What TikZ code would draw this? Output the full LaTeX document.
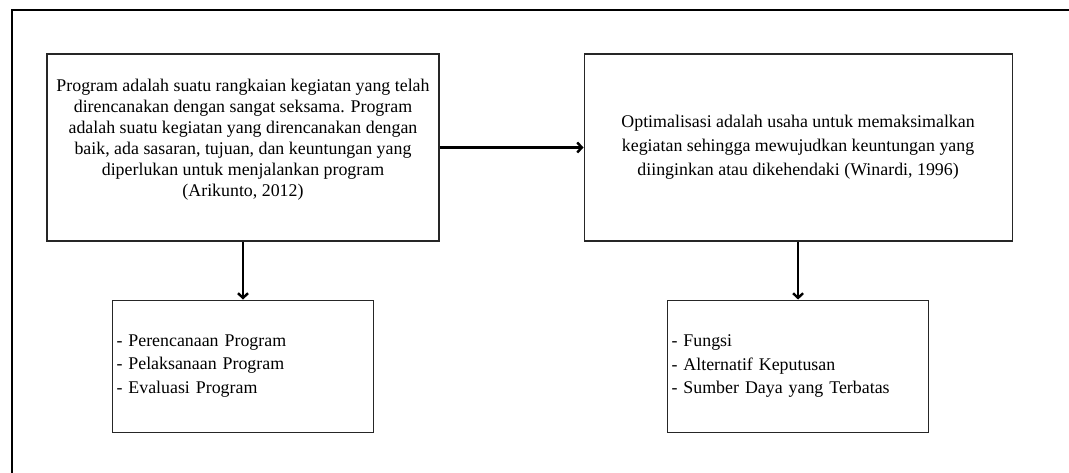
\documentclass[tikz,border=0pt]{standalone}
\usepackage{fontspec}
\setmainfont{Liberation Serif}
\usetikzlibrary{positioning, arrows.meta}

\begin{document}
\begin{tikzpicture}[
    x=0.75pt, y=-0.75pt,
    >={Straight Barb[length=3.5pt, width=7.5pt]},
    box/.style={draw=black!85, line width=0.8pt, inner sep=3pt},
    defbox/.style={box, minimum height=140.25pt, align=center},
    listbox/.style={box, minimum width=195.75pt, text width=189.75pt, minimum height=99pt, align=left,
        font=\fontsize{13.4}{17.5}\selectfont},
    link/.style={->, line width=1.8pt}
]
\useasboundingbox (0,0) rectangle (1069,473);

% Outer frame (cut off at right and bottom)
\draw[line width=1.5pt] (12,475) -- (12,10) -- (1071,10);

% Definitions
\node[defbox, minimum width=294pt] (program) at (243,147.5) {};
\node[align=center, font=\fontsize{13.4}{15.75}\selectfont, yshift=5.5pt] (programtext) at (program)
    {Program adalah suatu rangkaian kegiatan yang telah\\
     direncanakan dengan sangat seksama. Program\\
     adalah suatu kegiatan yang direncanakan dengan\\
     baik, ada sasaran, tujuan, dan keuntungan yang\\
     diperlukan untuk menjalankan program\\
     (Arikunto, 2012)};
\node[defbox, minimum width=321pt, font=\fontsize{13.4}{18}\selectfont, right=108pt of program] (optimal)
    {Optimalisasi adalah usaha untuk memaksimalkan\\
     kegiatan sehingga mewujudkan keuntungan yang\\
     diinginkan atau dikehendaki (Winardi, 1996)};

% Lists
\node[listbox, below=43.5pt of program] (tahap)
    {- Perencanaan Program\\
     - Pelaksanaan Program\\
     - Evaluasi Program};
\node[listbox, below=43.5pt of optimal] (unsur)
    {- Fungsi\\
     - Alternatif Keputusan\\
     - Sumber Daya yang Terbatas};

% Arrows
\draw[link] (program) -- (optimal);
\draw[link] (program) -- (tahap);
\draw[link] (optimal) -- (unsur);

\end{tikzpicture}
\end{document}
